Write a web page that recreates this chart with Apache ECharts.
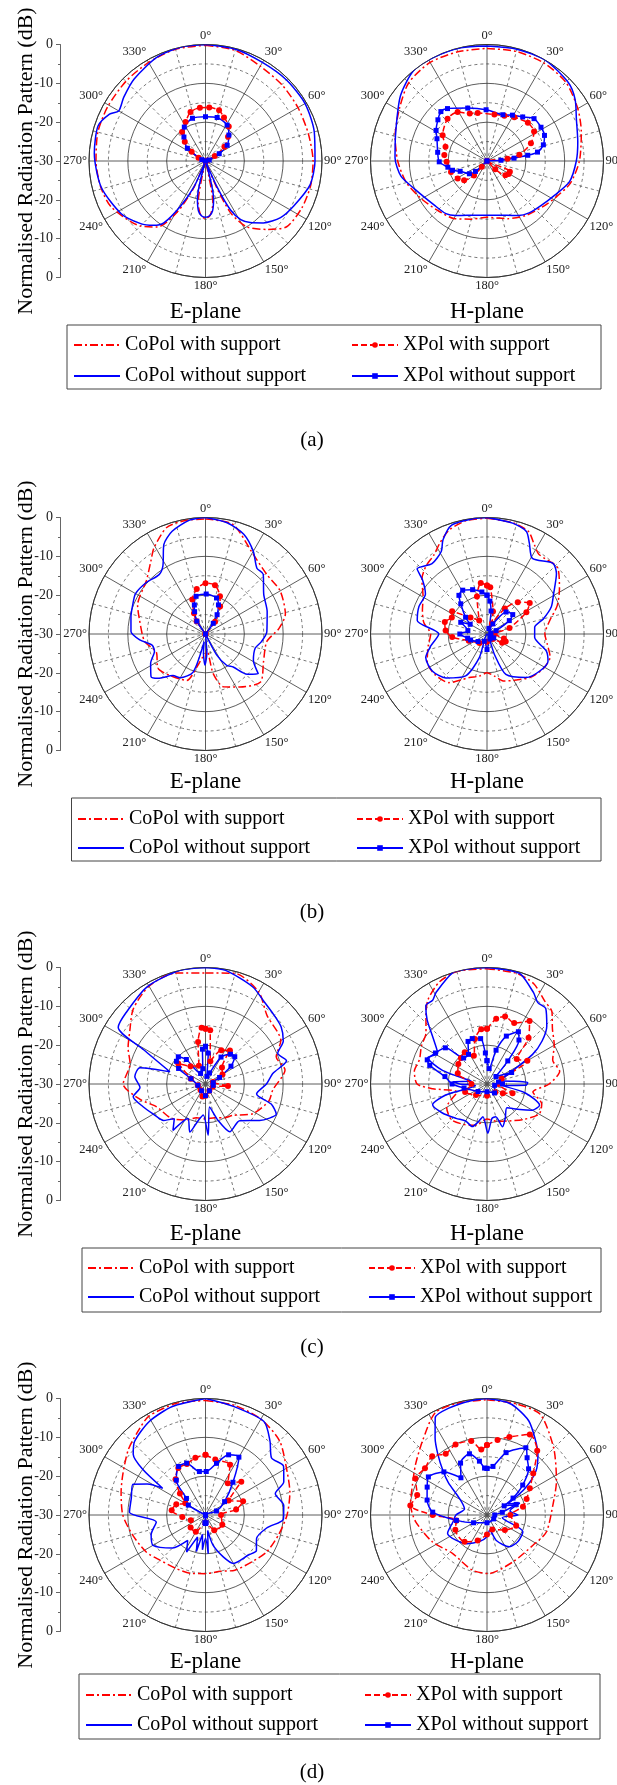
<!DOCTYPE html>
<html>
<head>
<meta charset="utf-8">
<script src="https://cdn.jsdelivr.net/npm/echarts/dist/echarts.min.js"></script>
<style>
  html, body { margin: 0; background: #fff; }
  #chart { width: 617px; height: 1785px; }
</style>
</head>
<body>
<div id="chart"></div>
<script>
// every pattern is a list of [angle in degrees, level in dB]

// (a) E-plane
const aE_coWith = [[0,-0.2],[15,-0.5],[30,-1.8],[45,-2.2],[60,-2.5],[75,-2.6],[90,-2.3],[103,-2.2],[116,-2.4],[129,-3.1],[138,-6.3],[148,-10],[154,-15],[157,-22],[160,-30],[166,-30],[170,-19],[175,-16],[180,-15.2],[185,-16],[190,-19],[195,-30],[200,-30],[204,-22],[209,-15],[216,-9],[225,-6.3],[244,-3],[256,-2.2],[270,-1.8],[285,-1.3],[299,-1.2],[315,-1],[330,-0.7],[345,-0.2],[360,-0.2]];
const aE_coWithout = [[0,0],[15,-0.2],[30,-0.7],[45,-0.5],[60,-0.4],[75,-1],[90,-1.8],[103,-2.4],[117,-4.5],[127,-5.8],[137,-8.2],[144,-10.4],[149,-12.4],[153,-15.9],[156,-22.7],[160,-30],[166,-30],[168,-20],[172,-17],[176,-15.8],[180,-15.5],[184,-15.8],[188,-17],[192,-20],[196,-30],[200,-30],[204,-22.7],[209,-16.7],[214,-10.8],[219,-8.7],[226,-6.8],[238,-4.4],[256,-2.3],[274,-1.3],[288,-0.9],[296,-2.5],[300,-4.2],[308,-3.3],[319,-2],[335,-0.5],[348,0],[360,0]];
const aE_xWith = [[270,-30],[295,-28],[304,-25.7],[313,-22.7],[321,-20.4],[333,-18.7],[343,-16.8],[354,-16.2],[4,-16.2],[15,-16.5],[23,-17.8],[34,-19.3],[43,-21.5],[53,-23.9],[62,-27.3],[75,-29.5],[90,-30]];
const aE_xWithout = [[270,-30],[290,-29],[305,-24.3],[318,-21.7],[328,-19.7],[343,-18.5],[0,-18.6],[15,-18.4],[31,-19.2],[42,-21],[54,-23.1],[62,-26],[75,-29],[90,-30]];

// (a) H-plane
const aH_coWith = [[0,-1],[15,-0.8],[30,-0.8],[45,-1.3],[60,-3],[73,-4.6],[90,-6.2],[105,-7.8],[118,-10],[130,-11.5],[145,-12.8],[160,-14.2],[180,-15.5],[195,-14.5],[210,-12.9],[225,-12],[240,-10.5],[255,-8.5],[270,-7],[285,-5.5],[301,-3.7],[315,-1.5],[330,-0.7],[345,-0.9],[360,-1]];
const aH_coWithout = [[0,-0.4],[15,-0.2],[30,0],[46,-0.9],[55,-2.3],[65,-4.6],[78,-6.1],[90,-7],[104,-8.1],[117,-10.5],[130,-12],[141,-12.8],[150,-13.8],[160,-15.1],[180,-16],[200,-15.1],[210,-13.8],[218,-12.8],[230,-12.3],[249,-10],[260,-7.5],[272,-6.3],[288,-5.3],[307,-2.1],[321,0],[333,0],[347,-0.1],[360,-0.4]];
const aH_xWith = [[222,-28],[222,-25],[230,-22.3],[239,-21.2],[253,-20.3],[269,-19.6],[278,-18.9],[289,-18.7],[300,-16.8],[317,-15.1],[329,-15.3],[340,-17],[349,-17.4],[9,-17.9],[21,-17.5],[32,-16.7],[47,-15.6],[58,-15.7],[68,-17.8],[79,-21.5],[84,-24.7],[90,-30],[105,-30],[115,-23.5],[121,-23.5],[128,-24],[135,-27],[145,-30]];
const aH_xWithout = [[228,-30],[228,-26],[234,-24.4],[249,-22.6],[255,-20.8],[261,-19.8],[269,-17.7],[280,-17.1],[294,-15.9],[301,-14.7],[310,-13.5],[317,-12.6],[323,-13.1],[340,-15.5],[359,-16.8],[19,-17.4],[29,-16.5],[39,-15.4],[48,-13.7],[58,-13.6],[66,-13.8],[74,-14.9],[80,-16.8],[82,-19.4],[84,-23],[87,-26.4],[90,-30]];

// (b) E-plane
const bE_coWith = [[0,-0.4],[14,-0.9],[31,-6.1],[46,-8],[60,-7.8],[76,-8.8],[86,-11.1],[97,-14.1],[116,-13.4],[131,-11.2],[147,-13.7],[161,-15.6],[169,-19.6],[175,-26],[180,-24],[186,-24],[193,-22],[202,-17.1],[221,-15.9],[234,-14.9],[250,-16.5],[263,-14.2],[283,-12.5],[293,-11],[312,-9.5],[323,-6.6],[329,-4.2],[340,-0.8],[350,-0.3],[360,-0.4]];
const bE_coWithout = [[0,0],[11,-0.8],[21,-2.5],[30,-5.4],[38,-8.5],[44,-8.6],[56,-11.9],[70,-13.1],[88,-14.2],[98,-15.5],[106,-16.7],[119,-15.9],[127,-13],[134,-15.1],[140,-18.9],[146,-20.3],[152,-24],[158,-30],[170,-30],[176,-25],[181,-22],[186,-25],[190,-28],[198,-19.7],[210,-17],[218,-16.4],[227,-13.3],[232,-12.2],[242,-14],[251,-16.1],[258,-16],[265,-13],[272,-10.8],[283,-10.3],[292,-9.8],[300,-9.2],[311,-9.8],[322,-10.6],[328,-9.3],[335,-4.6],[342,-2.2],[352,-0.4],[360,0]];
const bE_xWith = [[305,-30],[325,-26],[331,-23.9],[339,-20.5],[349,-18.2],[0,-16.9],[11,-17.2],[21,-19.6],[28,-22],[38,-26],[50,-30]];
const bE_xWithout = [[310,-30],[326,-26],[334,-23.6],[339,-22],[346,-20],[1,-19.7],[17,-20.3],[24,-21.8],[31,-24.2],[36,-26.6],[45,-30]];

// (b) H-plane
const bH_coWith = [[0,-0.2],[13,-0.6],[22,-1.5],[28,-4],[33,-5.5],[47,-5.1],[58,-8],[68,-10.5],[78,-13.5],[90,-15.1],[100,-14.2],[110,-12.7],[122,-13],[135,-14.2],[148,-16],[160,-17.1],[170,-19],[180,-20],[190,-19],[202,-17.9],[218,-14.1],[232,-13],[245,-13],[258,-14.5],[270,-15.5],[280,-13.5],[290,-12.3],[300,-11],[310,-8.1],[318,-6.5],[326,-5.5],[333,-3.5],[340,-1.5],[350,-0.3],[360,-0.2]];
const bH_coWithout = [[0,0],[13,-0.7],[21,-1.7],[25,-4.2],[31,-7.3],[43,-5.1],[49,-6.3],[59,-10],[67,-12],[75,-15],[82,-17.6],[94,-17.7],[106,-14.1],[114,-12.8],[125,-13.4],[138,-14.9],[155,-18.5],[160,-24.3],[170,-30],[190,-30],[198,-23.6],[207,-17.9],[223,-14.5],[236,-13],[249,-13.1],[258,-15.2],[270,-17.6],[281,-11.7],[292,-11.1],[303,-11.1],[310,-8.3],[313,-5.4],[322,-7],[331,-5.7],[335,-3.2],[342,-0.5],[353,-0.1],[360,0]];
const bH_xWith = [[0,-17.5],[4,-17.9],[15,-24],[25,-27],[35,-22],[44,-18.6],[54,-16.4],[61,-18.4],[75,-24],[90,-28],[105,-25.5],[112,-24.8],[120,-25.5],[130,-28],[180,-28],[220,-27],[250,-25],[265,-21],[275,-19.3],[286,-18.7],[295,-20],[303,-19.3],[315,-24],[330,-26],[345,-20],[353,-16.8],[360,-17.5]];
const bH_xWithout = [[0,-20],[5,-21.5],[10,-24],[20,-28.5],[30,-27],[41,-22.5],[53,-21.7],[59,-23.3],[70,-27.5],[80,-29],[100,-29],[120,-28],[150,-28.5],[180,-26],[200,-28],[230,-27],[250,-25.5],[258,-24.9],[270,-23],[280,-25],[294,-22.6],[300,-25],[308,-23],[319,-19.7],[324,-17.7],[331,-17.1],[342,-18],[353,-19.1],[360,-20]];

// (c) E-plane
const cE_coWith = [[0,-1.4],[15,-0.5],[30,-2.6],[42,-6.3],[60,-7.6],[69,-10.5],[80,-9.2],[95,-12.6],[105,-13.1],[122,-15.6],[139,-19.3],[150,-20],[165,-21],[180,-21],[195,-21],[208,-19.5],[225,-17.5],[245,-16.1],[257,-12.6],[270,-8.8],[285,-9.9],[295,-8],[305,-6.2],[316,-3.2],[330,-0.9],[345,-0.4],[360,-1.4]];
const cE_coWithout = [[0,0],[10,-0.3],[26,-2.2],[35,-3.9],[44,-4.9],[53,-5.6],[61,-7.1],[67,-9.8],[74,-8.3],[81,-12.4],[90,-14.3],[101,-16.6],[107,-12.3],[113,-10.2],[124,-13.2],[137,-17.1],[153,-16.2],[161,-20.1],[170,-24],[177,-16.8],[184,-22],[191,-20.5],[198,-17],[207,-20],[215,-15.4],[222,-18],[229,-15.7],[240,-14.5],[250,-12.9],[260,-11.1],[267,-13.1],[276,-11.7],[284,-12.6],[289,-20.3],[299,-11.8],[303,-3.2],[312,-2.5],[329,-0.8],[347,0],[360,0]];
const cE_xWith = [[0,-15.8],[5,-16.1],[12,-24],[25,-20.4],[36,-19.3],[45,-24],[61,-25],[75,-28],[95,-24.2],[110,-28],[150,-28],[180,-27],[194,-26.7],[220,-28],[260,-28],[290,-26],[307,-21.2],[320,-24],[340,-25],[350,-19],[356,-15.5],[360,-15.8]];
const cE_xWithout = [[0,-20.3],[5,-22],[10,-28],[20,-27],[30,-22],[40,-20],[47,-19.7],[55,-22],[65,-26],[80,-28],[100,-28],[150,-28],[180,-27],[210,-28],[260,-28],[290,-26],[300,-22],[308,-20.5],[315,-20.1],[322,-22],[335,-27],[350,-26],[355,-21],[360,-20.3]];

// (c) H-plane
const cH_coWith = [[0,-0.3],[15,-0.5],[25,-1.5],[35,-4],[42,-5],[50,-8],[60,-10],[70,-12],[80,-11],[90,-14],[100,-18],[110,-15],[120,-14.5],[135,-17],[150,-19],[165,-20],[180,-21],[195,-19],[210,-18],[225,-17],[240,-18],[255,-22],[265,-16],[270,-12],[280,-11],[290,-11.5],[300,-10.5],[310,-9.5],[318,-6.5],[325,-3.5],[335,-1],[345,0],[360,-0.3]];
const cH_coWithout = [[0,0],[10,-0.2],[17,-0.4],[27,-3.6],[32,-5.3],[38,-5.4],[46,-8.6],[52,-12],[57,-16],[65,-24],[75,-27],[83,-24],[88,-19.5],[92,-20],[96,-26],[103,-20],[112,-15.4],[120,-16.5],[128,-19.3],[140,-22],[152,-20],[160,-18.3],[165,-21.3],[172,-21],[179,-17.3],[187,-21.5],[193,-20],[199,-18.4],[210,-19],[222,-18.1],[237,-16.3],[249,-15],[255,-19],[262,-27],[270,-23],[274,-21.2],[280,-26],[287,-18],[294,-13.3],[302,-15],[310,-12],[317,-7.4],[322,-4.4],[327,-4.3],[331,-3],[343,0],[352,0],[360,0]];
const cH_xWith = [[0,-15.8],[8,-13],[15,-12],[24,-12.8],[34,-10.4],[42,-14],[50,-20],[60,-18],[70,-26],[90,-27],[110,-23],[120,-25.3],[135,-27],[180,-27],[225,-26],[250,-24],[270,-26],[290,-22],[305,-21],[315,-20.5],[325,-20],[335,-22],[345,-18],[354,-15.8],[360,-15.8]];
const cH_xWithout = [[0,-24],[8,-26],[15,-21],[22,-16.7],[31,-14.3],[36,-16],[42,-22],[50,-27],[65,-23],[80,-27],[90,-26],[100,-28],[140,-27],[180,-28],[230,-27],[260,-24],[270,-21],[280,-19],[288,-14.5],[292,-13.4],[301,-14.5],[311,-15.8],[318,-21],[328,-21],[336,-18],[342,-17.7],[352,-18.2],[357,-22],[360,-24]];

// (d) E-plane
const dE_coWith = [[0,-0.5],[15,-0.8],[30,-1.5],[45,-3],[62,-6.2],[75,-7.5],[90,-9],[105,-10.5],[121,-11.6],[135,-13],[152,-13.9],[165,-15],[180,-14.9],[195,-14.5],[208,-14.3],[225,-13.5],[238,-12],[255,-10.5],[270,-8.7],[285,-7.5],[296,-6.3],[310,-4],[320,-2.5],[330,-0.7],[345,-0.3],[360,-0.5]];
const dE_coWithout = [[0,0],[14,-1.1],[32,-1.6],[41,-4.7],[49,-7.5],[58,-6.3],[67,-8.1],[73,-11.2],[83,-9.7],[93,-9.9],[102,-13.9],[115,-15.5],[125,-14],[133,-14.9],[150,-15.6],[157,-18.3],[166,-22],[172,-26],[176,-20],[180,-24],[185,-21],[189,-25],[194,-20.3],[200,-24],[207,-19.3],[215,-22],[225,-18],[240,-14.4],[250,-15.1],[262,-17.2],[272,-10.4],[283,-10.4],[293,-9.7],[298,-13],[302,-17],[306,-10],[310,-5.7],[316,-3.7],[329,-1.9],[343,-0.8],[360,0]];
const dE_xWith = [[0,-14.5],[10,-15.5],[26,-15.6],[35,-20],[47,-17.4],[58,-23],[70,-19.7],[80,-22],[90,-26],[120,-25],[150,-25.5],[180,-28],[210,-25],[230,-25],[250,-26],[265,-24],[278,-21.2],[290,-22],[300,-24],[310,-21.4],[320,-18],[330,-16],[340,-16],[350,-15],[360,-14.5]];
const dE_xWithout = [[290,-30],[300,-24.9],[311,-23.5],[320,-18.3],[331,-15.7],[340,-15.8],[352,-18.7],[1,-18.8],[12,-16.4],[21,-13.4],[30,-12.8],[40,-19],[55,-24],[70,-27],[90,-30],[150,-30],[175,-28],[180,-27.8],[185,-28],[200,-30]];

// (d) H-plane
const dH_coWith = [[0,-0.3],[15,-0.4],[28,-0.7],[45,-5.7],[64,-10.1],[81,-12.8],[106,-14.1],[123,-15.8],[151,-16.2],[179,-14.9],[195,-15.3],[222,-16.7],[244,-14.3],[265,-11.5],[278,-10.1],[292,-9.3],[305,-7.5],[319,-4.7],[333,-0.5],[345,-0.2],[360,-0.3]];
const dH_coWithout = [[0,0],[10,-0.5],[15,-1.3],[24,-3.5],[32,-6.7],[40,-9.6],[48,-13],[55,-18],[62,-24],[70,-21],[80,-24],[90,-22],[100,-26],[115,-19.8],[130,-19.5],[145,-20],[160,-23],[170,-26],[180,-24.4],[195,-23],[215,-21],[231,-19.7],[245,-18.8],[258,-21],[270,-22],[285,-24],[300,-22],[310,-17],[315,-14],[321,-9.9],[326,-6.1],[332,-1.6],[340,-0.8],[352,-0.3],[360,0]];
const dH_xWith = [[0,-12],[8,-10.5],[16,-9.1],[28,-6.5],[38,-9],[48,-14],[58,-17],[68,-19],[77,-20.5],[90,-24],[110,-22],[130,-24],[160,-26],[180,-25],[200,-23],[220,-21],[245,-21],[260,-22],[270,-16],[277,-10.1],[286,-11.3],[297,-9.3],[307,-10],[317,-9.3],[326,-11],[336,-10.1],[348,-10.5],[355,-13.1],[360,-12]];
const dH_xWithout = [[0,-18],[7,-17.4],[17,-13.2],[30,-10],[35,-12],[42,-14],[50,-18],[57,-22],[62,-25],[70,-22],[80,-26],[90,-28],[120,-28],[180,-28],[240,-26],[260,-22],[273,-16],[284,-14.1],[295,-13],[303,-12],[315,-14.3],[325,-18.3],[333,-15],[344,-13.6],[352,-16],[357,-17.9],[360,-18]];

const radialTicks = [0, -10, -20, -30, -20, -10, 0];
const seriesNames = ['CoPol with support', 'CoPol without support', 'XPol with support', 'XPol without support'];
const planeNames = ['E-plane', 'H-plane'];
const panelTags = ['(a)', '(b)', '(c)', '(d)'];

const font = '"Liberation Serif", "Times New Roman", serif';
const R = 116.5;
const cxs = [205.5, 487];

// layout of the four panels
const panels = [
  { cy: 161, plane: 312, cap: 440, box: [67, 325, 534, 64], rows: [345, 376], cols: [73, 351],
    sets: [[aE_coWith, aE_coWithout, aE_xWith, aE_xWithout], [aH_coWith, aH_coWithout, aH_xWith, aH_xWithout]] },
  { cy: 634, plane: 782, cap: 912, box: [71.5, 798, 529.5, 63], rows: [819, 848], cols: [77, 356],
    sets: [[bE_coWith, bE_coWithout, bE_xWith, bE_xWithout], [bH_coWith, bH_coWithout, bH_xWith, bH_xWithout]] },
  { cy: 1084, plane: 1234, cap: 1347, box: [82, 1248, 519, 64], rows: [1268, 1297], cols: [87, 368],
    sets: [[cE_coWith, cE_coWithout, cE_xWith, cE_xWithout], [cH_coWith, cH_coWithout, cH_xWith, cH_xWithout]] },
  { cy: 1515, plane: 1662, cap: 1772, box: [79, 1674, 521, 65], rows: [1695, 1725], cols: [85, 364],
    sets: [[dE_coWith, dE_coWithout, dE_xWith, dE_xWithout], [dH_coWith, dH_coWithout, dH_xWith, dH_xWithout]] }
];

const looks = [
  { color: '#ff0000', lineStyle: { width: 1.5, type: [8, 3, 2, 3] }, symbol: 'none' },
  { color: '#0000ff', lineStyle: { width: 1.5, type: 'solid' }, symbol: 'none' },
  { color: '#ff0000', lineStyle: { width: 1.5, type: [6, 3] }, symbol: 'circle', symbolSize: 6 },
  { color: '#0000ff', lineStyle: { width: 1.5, type: 'solid' }, symbol: 'rect', symbolSize: 5 }
];

const polar = [], angleAxis = [], radiusAxis = [], series = [];
const grid = [], xAxis = [], yAxis = [], legend = [], graphic = [];

panels.forEach((p, pi) => {
  p.sets.forEach((set, side) => {
    const k = polar.length;
    polar.push({ center: [cxs[side], p.cy], radius: R });
    angleAxis.push({
      polarIndex: k, type: 'value', min: 0, max: 360, interval: 30, startAngle: 90, clockwise: true,
      axisLine: { show: true, lineStyle: { color: '#333', width: 1 } },
      axisTick: { show: false },
      axisLabel: { margin: 2, color: '#222', fontSize: 12.5, fontFamily: font,
        formatter: v => v === 360 ? '' : v + '°' },
      splitLine: { show: true, lineStyle: { color: '#333', width: 0.8 } },
      minorTick: { show: false, splitNumber: 2 },
      minorSplitLine: { show: true, lineStyle: { color: '#555', width: 0.8, type: [3, 3] } }
    });
    radiusAxis.push({
      polarIndex: k, type: 'value', min: -30, max: 0, interval: 10,
      axisLine: { show: false }, axisTick: { show: false }, axisLabel: { show: false },
      splitLine: { show: true, lineStyle: { color: '#333', width: 0.8 } },
      minorTick: { show: false, splitNumber: 2 },
      minorSplitLine: { show: true, lineStyle: { color: '#555', width: 0.8, type: [3, 3] } }
    });
    set.forEach((pts, si) => {
      series.push(Object.assign({
        type: 'line', name: seriesNames[si], coordinateSystem: 'polar', polarIndex: k,
        data: pts.map(d => [d[1], d[0]]),
        smooth: 0.25, showAllSymbol: true, silent: true, animation: false,
        z: si >= 2 ? 4 : 3
      }, looks[si]));
    });
    graphic.push({ type: 'text', x: cxs[side], y: p.plane,
      style: { text: planeNames[side], font: '23px ' + font, fill: '#000', align: 'center', verticalAlign: 'middle' } });
  });

  // radial dB scale at the left
  grid.push({ left: 60, width: 1, top: p.cy - R, height: 2 * R });
  xAxis.push({ gridIndex: pi, type: 'value', show: false });
  yAxis.push({
    gridIndex: pi, type: 'value', min: -30, max: 30, interval: 10,
    axisLine: { show: true, lineStyle: { color: '#666', width: 1 } },
    axisTick: { show: true, inside: false, length: 4, lineStyle: { color: '#666' } },
    minorTick: { show: true, splitNumber: 2, length: 2, lineStyle: { color: '#666' } },
    splitLine: { show: false },
    axisLabel: { margin: 7, color: '#222', fontSize: 14, fontFamily: font,
      formatter: v => String(radialTicks[(v + 30) / 10]) }
  });

  // legend in two columns; CoPol entries are drawn as plain lines
  const common = {
    orient: 'vertical', padding: 0, itemWidth: 46, itemHeight: 7, selectedMode: false,
    itemGap: p.rows[1] - p.rows[0] - 20, top: p.rows[0] - 10,
    textStyle: { fontFamily: font, fontSize: 20, color: '#000', lineHeight: 20 }
  };
  legend.push(Object.assign({ left: p.cols[0], data: [
    { name: seriesNames[0], itemStyle: { opacity: 0 } },
    { name: seriesNames[1], itemStyle: { opacity: 0 } }
  ] }, common));
  legend.push(Object.assign({ left: p.cols[1], data: [seriesNames[2], seriesNames[3]] }, common));
  graphic.push({ type: 'rect', shape: { x: p.box[0], y: p.box[1], width: p.box[2], height: p.box[3] },
    style: { fill: 'none', stroke: '#444', lineWidth: 1 } });

  graphic.push({ type: 'text', x: 26, y: p.cy, rotation: Math.PI / 2,
    style: { text: 'Normalised Radiation Pattern (dB)', font: '22px ' + font, fill: '#000', align: 'center', verticalAlign: 'middle' } });
  graphic.push({ type: 'text', x: 312, y: p.cap,
    style: { text: panelTags[pi], font: '21px ' + font, fill: '#000', align: 'center', verticalAlign: 'middle' } });
});

const chart = echarts.init(document.getElementById('chart'), null, { renderer: 'canvas' });
chart.setOption({
  backgroundColor: '#fff',
  animation: false,
  polar, angleAxis, radiusAxis, grid, xAxis, yAxis, legend, graphic, series
});
</script>
</body>
</html>
